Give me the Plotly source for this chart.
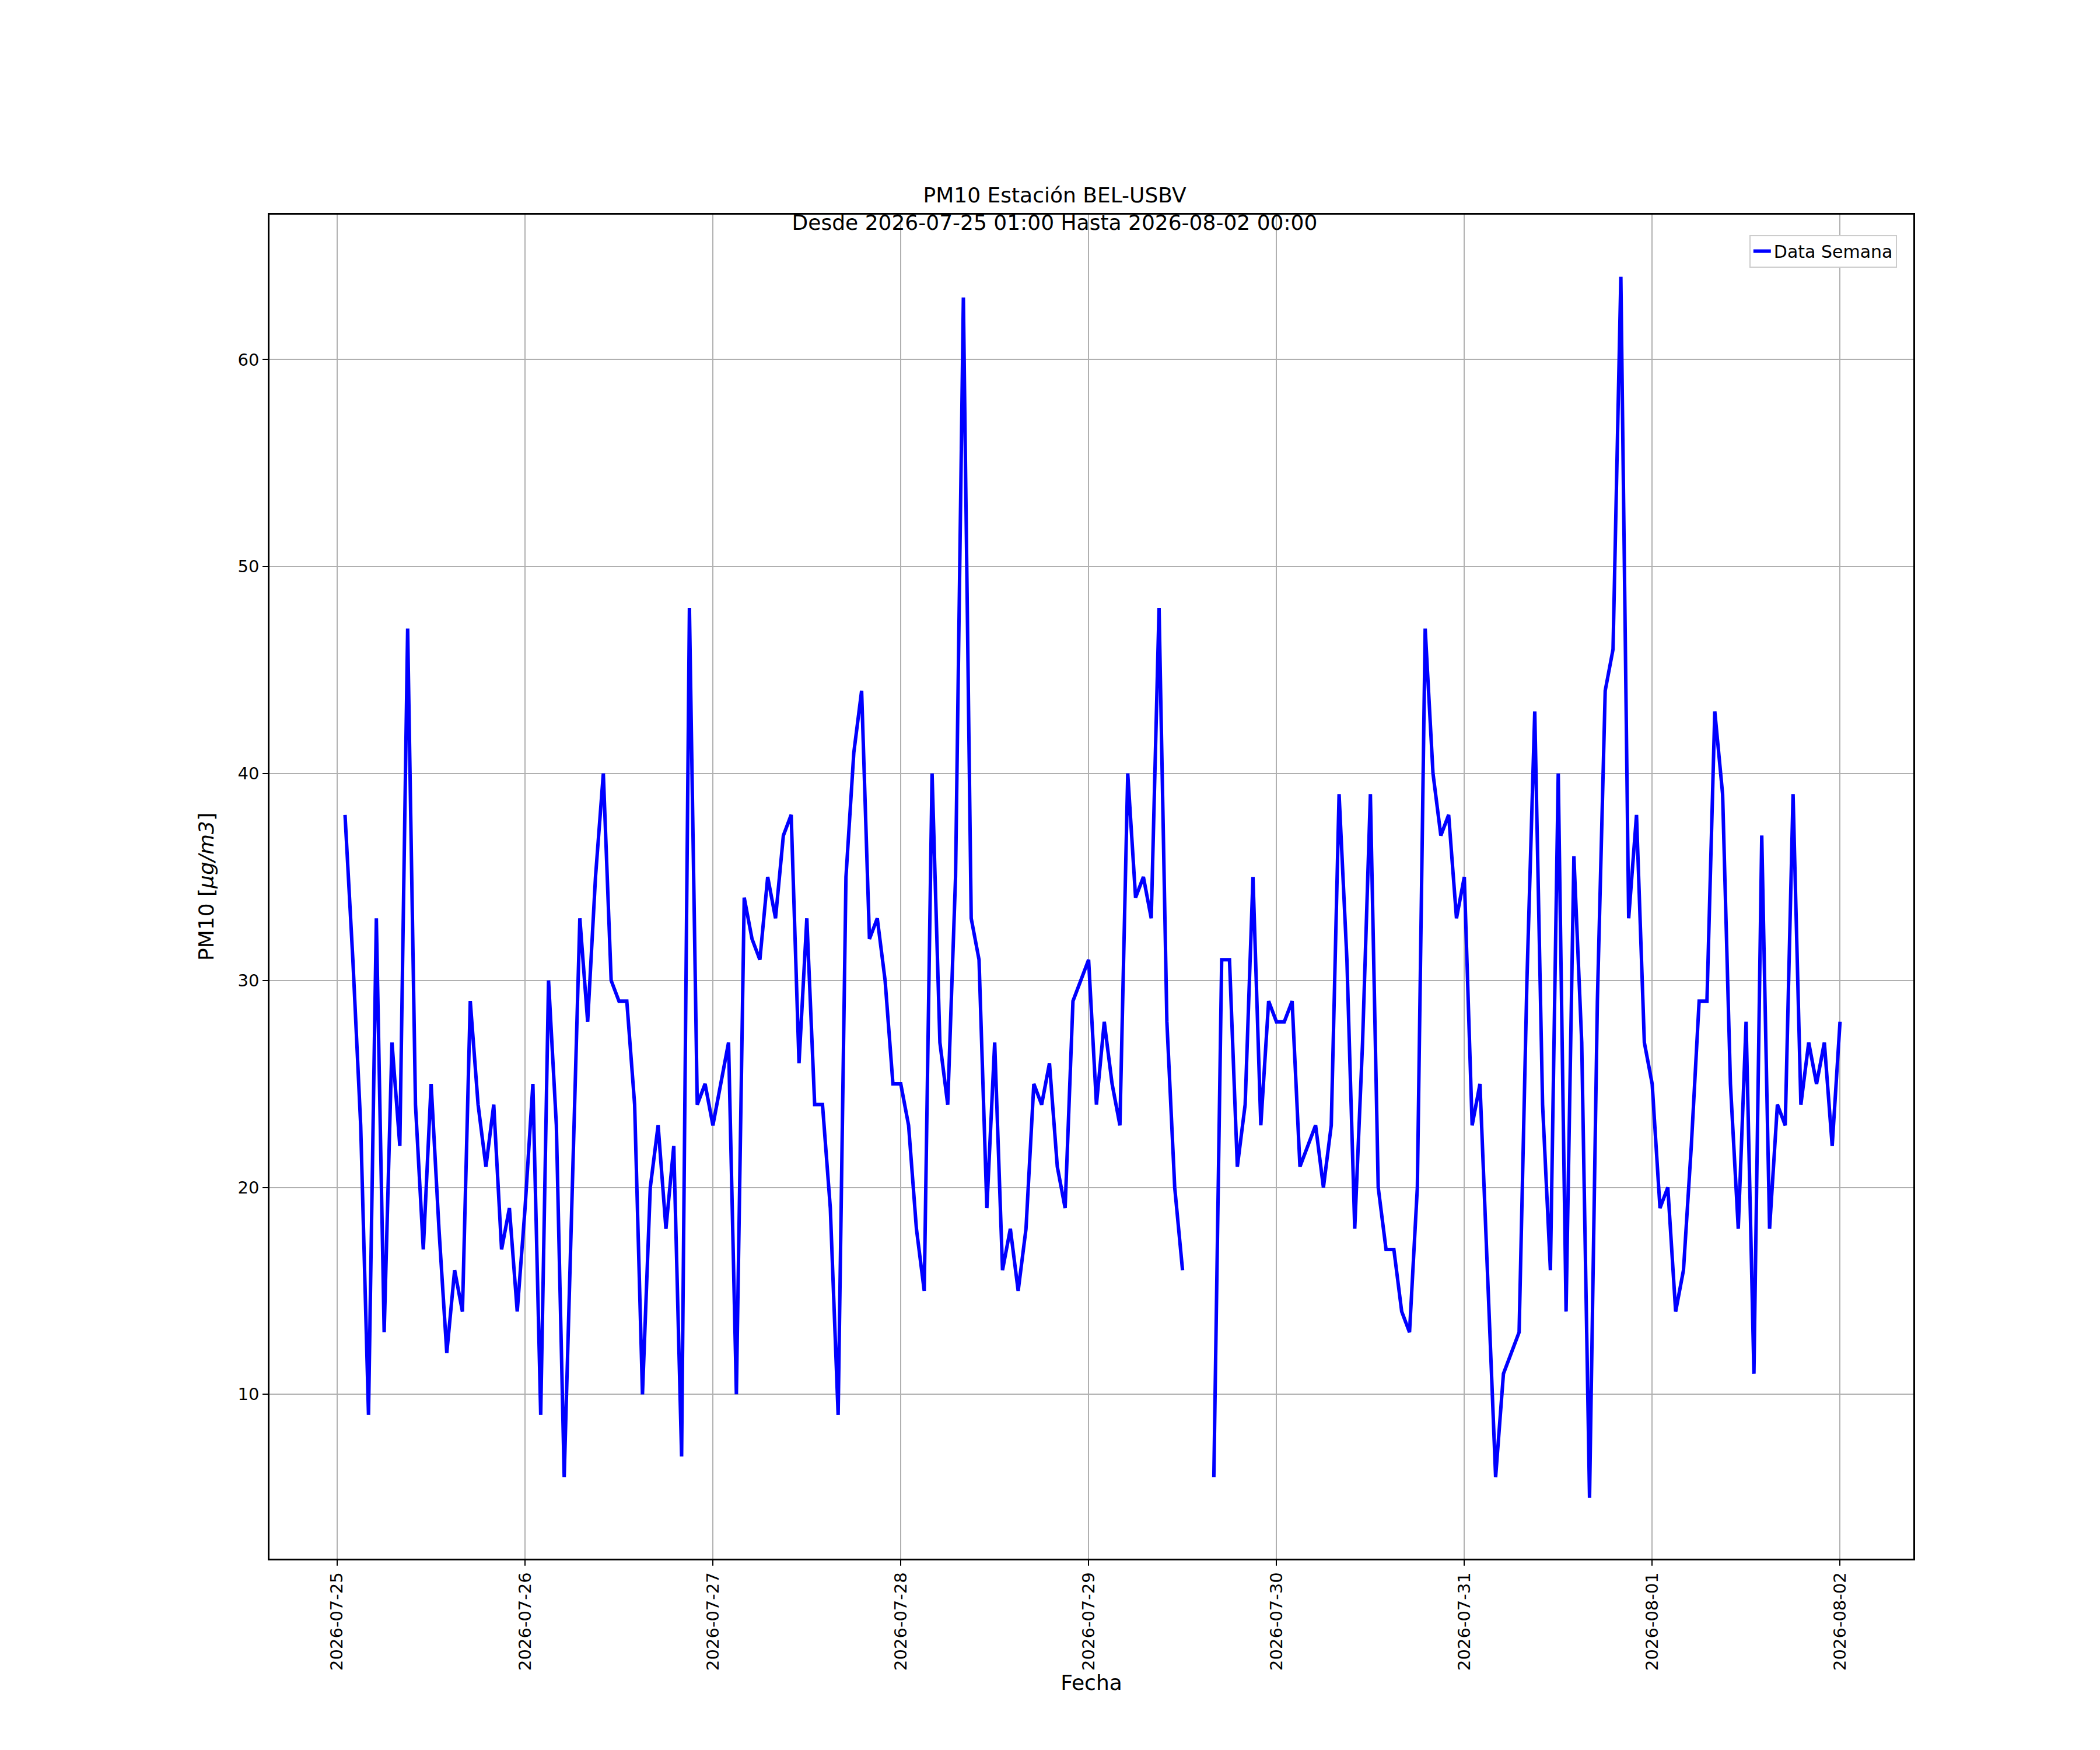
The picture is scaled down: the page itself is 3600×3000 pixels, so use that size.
import pandas as pd
import plotly.graph_objects as go

START = "2026-07-25 01:00"
END = "2026-08-02 00:00"

# hourly PM10 readings, one list per day (first day starts at 01:00)
pm10_0725 = [38, 31, 23, 9, 33, 13, 27, 22, 47, 24, 17, 25, 18, 12, 16, 14, 29, 24, 21, 24, 17, 19, 14]
pm10_0726 = [19, 25, 9, 30, 23, 6, 19, 33, 28, 35, 40, 30, 29, 29, 24, 10, 20, 23, 18, 22, 7, 48, 24, 25]
pm10_0727 = [23, 25, 27, 10, 34, 32, 31, 35, 33, 37, 38, 26, 33, 24, 24, 19, 9, 35, 41, 44, 32, 33, 30, 25]
pm10_0728 = [25, 23, 18, 15, 40, 27, 24, 35, 63, 33, 31, 19, 27, 16, 18, 15, 18, 25, 24, 26, 21, 19, 29, 30]
pm10_0729 = [31, 24, 28, 25, 23, 40, 34, 35, 33, 48, 28, 20, 16, None, None, None, 6, 31, 31, 21, 24, 35, 23, 29]
pm10_0730 = [28, 28, 29, 21, 22, 23, 20, 23, 39, 31, 18, 27, 39, 20, 17, 17, 14, 13, 20, 47, 40, 37, 38, 33]
pm10_0731 = [35, 23, 25, 15, 6, 11, 12, 13, 30, 43, 24, 16, 40, 14, 36, 27, 5, 29, 44, 46, 64, 33, 38, 27]
pm10_0801 = [25, 19, 20, 14, 16, 22, 29, 29, 43, 39, 25, 18, 28, 11, 37, 18, 24, 23, 39, 24, 27, 25, 27, 22]
pm10_0802 = [28]

values = (pm10_0725 + pm10_0726 + pm10_0727 + pm10_0728 + pm10_0729
          + pm10_0730 + pm10_0731 + pm10_0801 + pm10_0802)
fechas = pd.date_range(START, END, freq="h")

FONT = "DejaVu Sans"

fig = go.Figure()
fig.add_trace(go.Scatter(x=fechas, y=values, mode="lines", name="Data Semana",
                         line=dict(color="#0000ff", width=6), connectgaps=False))

axis_common = dict(showline=True, linecolor="black", linewidth=2.5, mirror=True,
                   ticks="outside", ticklen=9, tickwidth=2, tickcolor="black",
                   showgrid=True, gridcolor="#b0b0b0", gridwidth=2, zeroline=False,
                   tickfont=dict(size=29, color="black", family=FONT))

fig.update_xaxes(**axis_common, type="date",
                 range=["2026-07-24 15:21", "2026-08-02 09:22"],
                 dtick=86400000, tick0="2026-07-25", tickformat="%Y-%m-%d", tickangle=-90,
                 title=dict(text="Fecha", font=dict(size=36, color="black", family=FONT), standoff=8))
fig.update_yaxes(**axis_common, range=[2.06, 67], tickvals=[10, 20, 30, 40, 50, 60],
                 title=dict(text="PM10 [<i>μg/m3</i>]", font=dict(size=36, color="black", family=FONT),
                            standoff=30))

fig.update_layout(
    width=3600, height=3000,
    paper_bgcolor="white", plot_bgcolor="white",
    margin=dict(l=454, r=328, t=360, b=336),
    title=dict(text="PM10 Estación BEL-USBV<br>Desde 2026-07-25 01:00 Hasta 2026-08-02 00:00",
               x=0.5, xanchor="center", y=0.887, yanchor="bottom",
               font=dict(size=36, color="black", family=FONT)),
    showlegend=True,
    legend=dict(x=0.99, y=0.985, xanchor="right", yanchor="top",
                bgcolor="white", bordercolor="#cccccc", borderwidth=2,
                font=dict(size=30, color="black", family=FONT)),
)

fig.write_html("out.html")
